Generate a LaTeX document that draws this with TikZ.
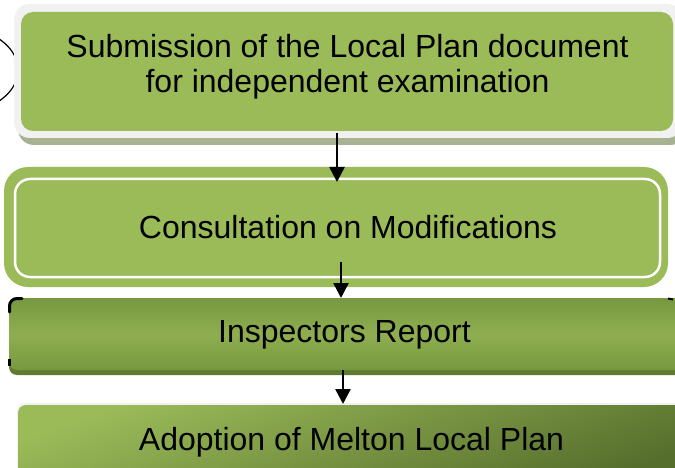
\documentclass[tikz,border=0pt]{standalone}
\usepackage{fontspec}
\setmainfont{Liberation Sans}
\usetikzlibrary{arrows.meta}
\definecolor{olive}{HTML}{9BBB59}
\definecolor{frameg}{HTML}{F1F1F1}
\definecolor{shadowg}{HTML}{A7B292}
\definecolor{darkA}{HTML}{789840}
\definecolor{darkB}{HTML}{8EAE50}
\definecolor{darkS}{HTML}{5F7B30}
\definecolor{adoptA}{HTML}{9BBB59}
\definecolor{adoptB}{HTML}{566E2C}
\tikzset{
  boxtext/.style={font=\fontsize{32}{35}\selectfont, text=black, inner sep=0pt, align=center},
  arr/.style={line width=2.6pt, -{Triangle[width=15pt,length=15pt]}},
}
\begin{document}
\begin{tikzpicture}[x=1pt,y=-1pt]
\useasboundingbox (0,0) rectangle (675,468);
\clip (0,0) rectangle (675,468);
\fill[white] (0,0) rectangle (675,468);
% left partial ellipse
\draw[line width=1.2pt] (-40,70) ellipse [x radius=58, y radius=42];
% Box 1
\fill[shadowg, rounded corners=16pt] (18,12) rectangle (686,145);
\fill[frameg, rounded corners=16pt] (14,4) rectangle (683,138);
\node[fill=olive, rounded corners=12pt, minimum width=652pt, minimum height=119pt, inner sep=0pt] (b1) at (347,71.5) {};
\node[boxtext, anchor=base] (t1) at (347.5,93) {Submission of the Local Plan document\\for independent examination};
% Box 2
\node[fill=olive, rounded corners=24pt, minimum width=664pt, minimum height=120pt, inner sep=0pt] (b2) at (336,227) {};
\draw[white, line width=2.5pt, rounded corners=15pt] (15,179) rectangle (660,277);
\node[boxtext, anchor=base] (t2) at (348,238) {Consultation on Modifications};
% Box 3
\fill[darkS, rounded corners=8pt] (9,300) rectangle (700,375);
\node[top color=darkA, bottom color=darkA, middle color=darkB, rounded corners=8pt, minimum width=691pt, minimum height=72pt, inner sep=0pt] (b3) at (354.5,334) {};
\draw[line width=3pt, line cap=round] (9.5,312) -- (9.5,306) arc[start angle=180, end angle=270, radius=7.5] -- (22,298.5);
\draw[line width=2.5pt] (9.5,359) -- (9.5,366);
\draw[line width=2pt] (668,298.5) -- (673,299.5);
\node[boxtext, anchor=base] (t3) at (344.5,342) {Inspectors Report};
% Box 4
\fill[frameg, rounded corners=8pt] (17,403) rectangle (700,480);
\node[shading=axis, top color=adoptA, bottom color=adoptB, shading angle=20, rounded corners=8pt, minimum width=682pt, minimum height=75pt, inner sep=0pt] (b4) at (359,442.5) {};
\node[boxtext, anchor=base] (t4) at (351.5,450) {Adoption of Melton Local Plan};
% arrows
\coordinate (a1s) at (337,133);
\coordinate (a1e) at (337,182);
\coordinate (a2s) at (341,262);
\coordinate (a2e) at (341,298);
\coordinate (a3s) at (343,370);
\coordinate (a3e) at (343,404);
\draw[arr] (a1s) -- (a1e);
\draw[arr] (a2s) -- (a2e);
\draw[arr] (a3s) -- (a3e);
\end{tikzpicture}
\end{document}
